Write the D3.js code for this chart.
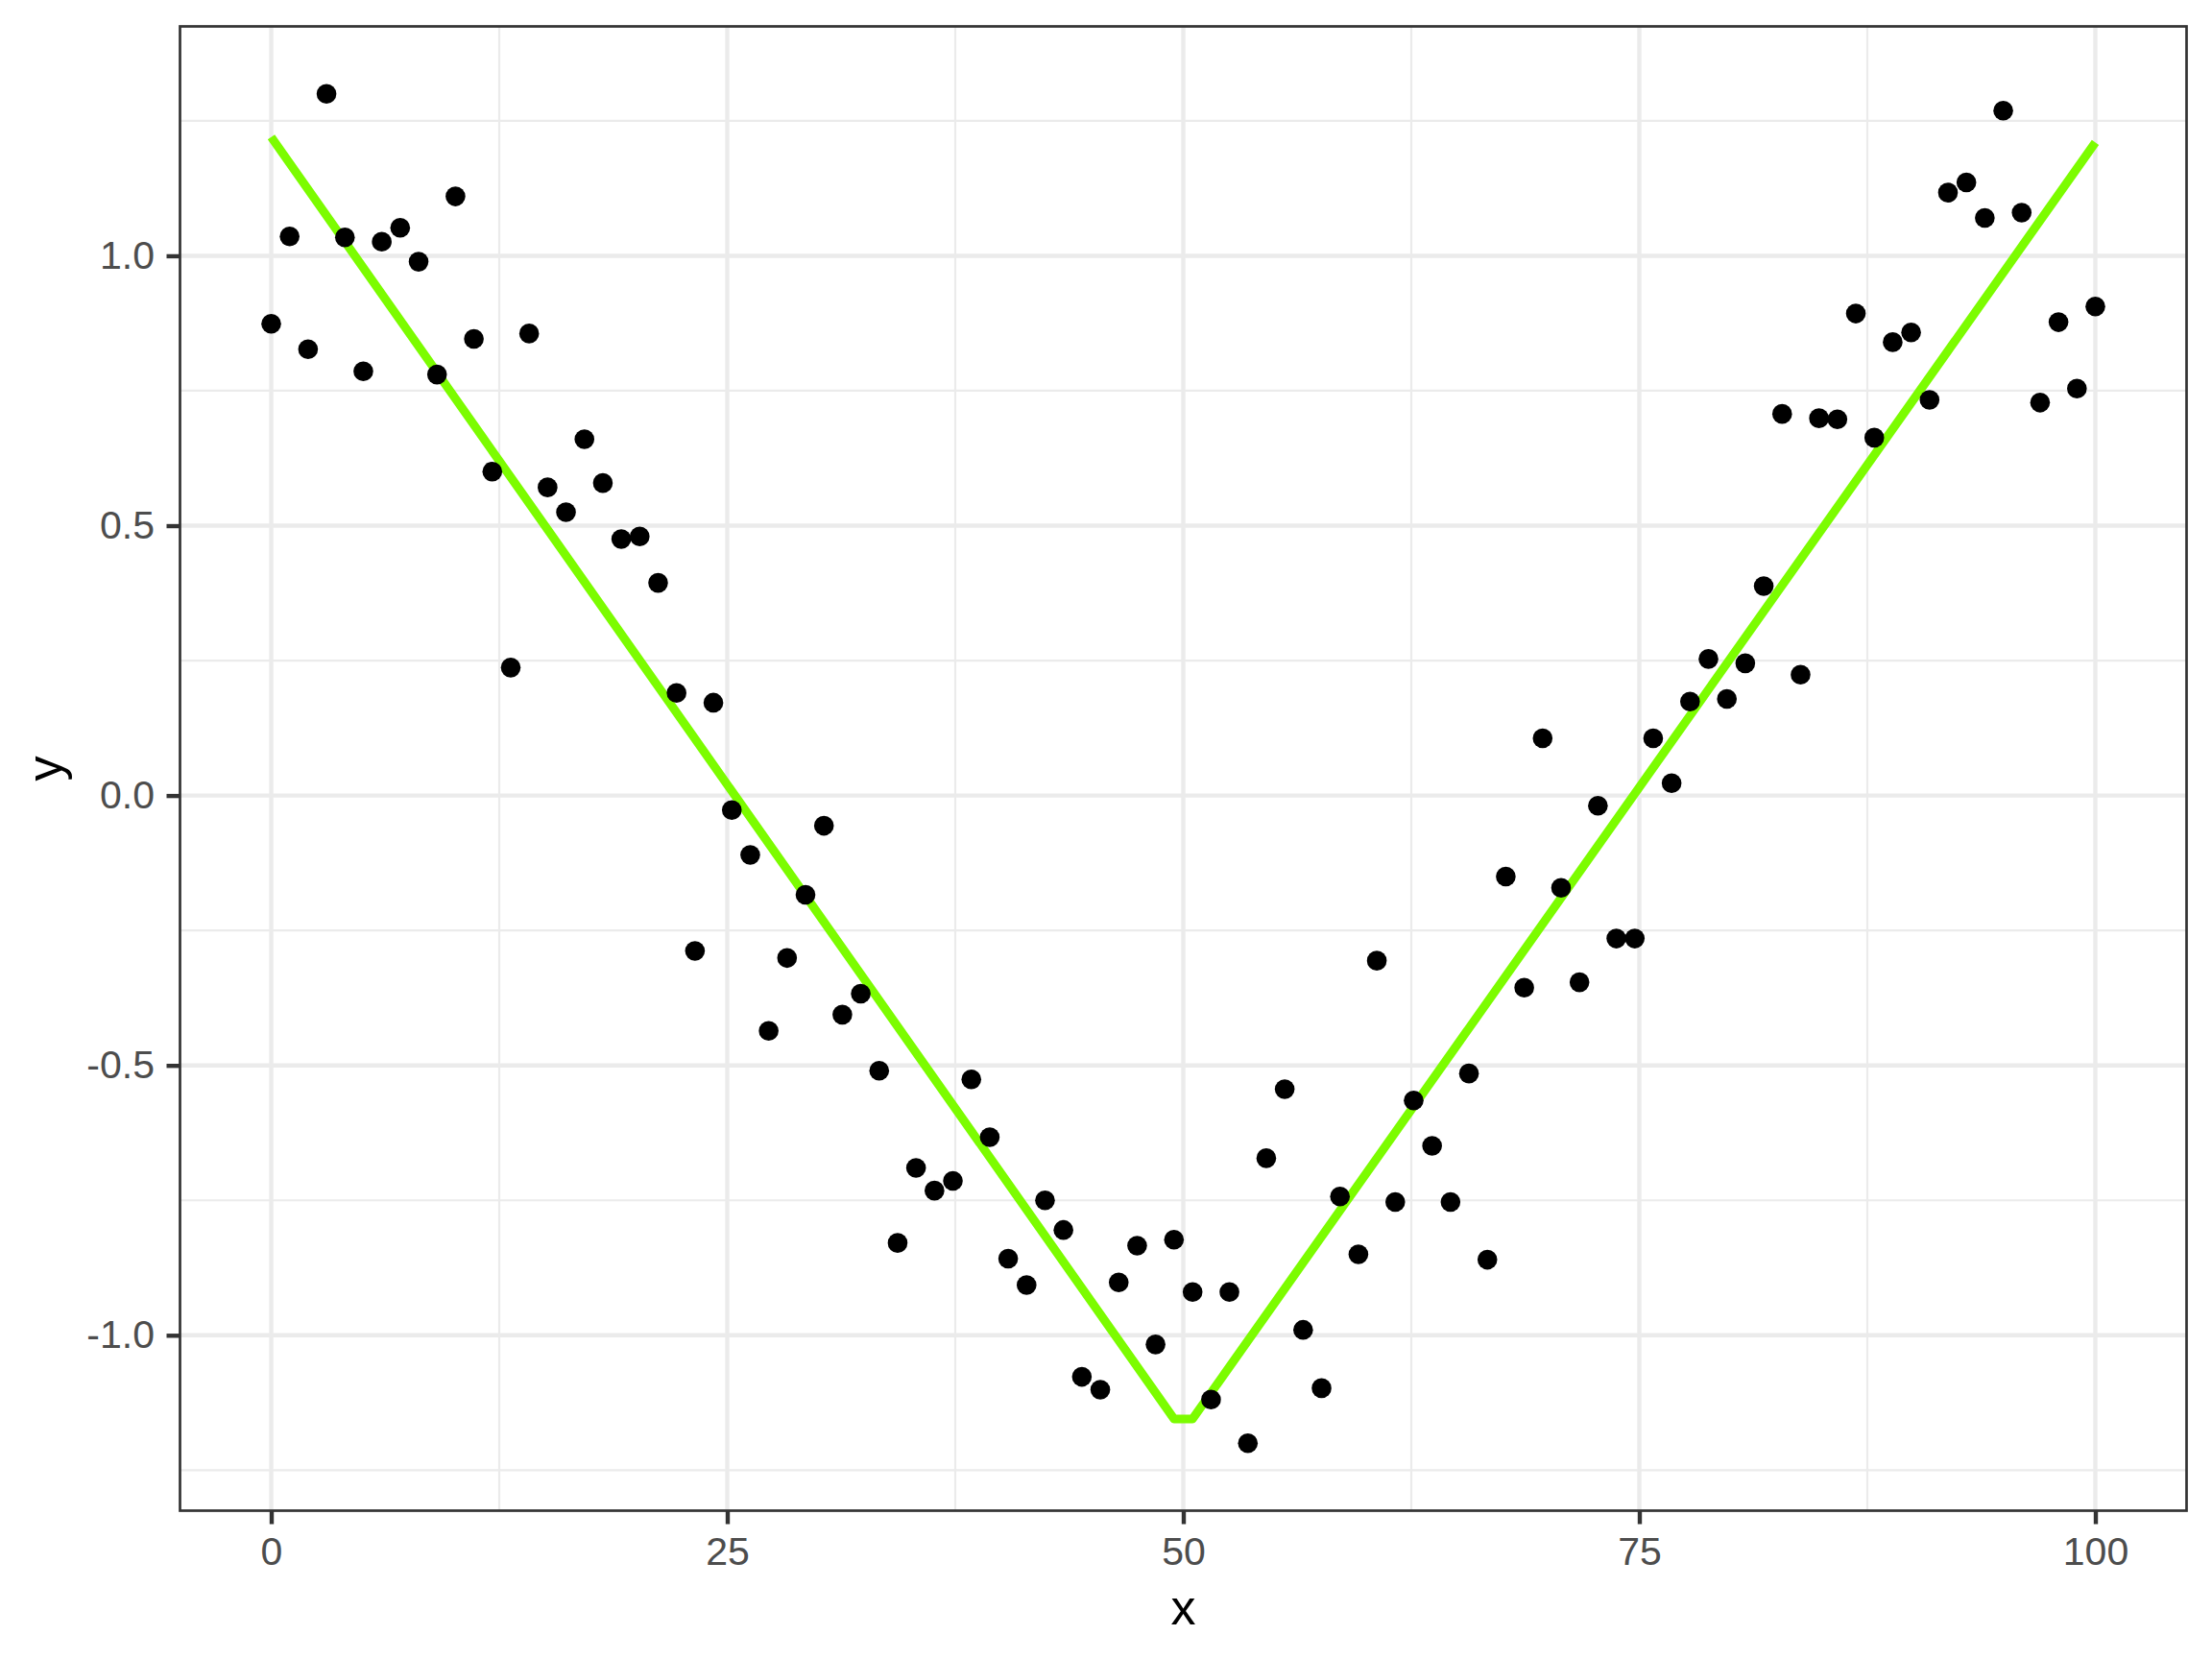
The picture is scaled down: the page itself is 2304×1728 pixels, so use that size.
<!DOCTYPE html>
<html>
<head>
<meta charset="utf-8">
<script src="https://cdn.jsdelivr.net/npm/d3@7"></script>
<style>
  body { margin: 0; background: #ffffff; }
  svg { display: block; }
  .tickLabel { font-family: "Liberation Sans", Arial, Helvetica, sans-serif; }
</style>
</head>
<body>
<svg id="chart" width="2304" height="1728"></svg>
<script>
// observed points (x evenly spaced 0..100, 100 points)
var xs = [0, 1.01, 2.02, 3.03, 4.04, 5.05, 6.06, 7.07, 8.08, 9.09,
  10.10, 11.11, 12.12, 13.13, 14.14, 15.15, 16.16, 17.17, 18.18, 19.19,
  20.20, 21.21, 22.22, 23.23, 24.24, 25.25, 26.26, 27.27, 28.28, 29.29,
  30.30, 31.31, 32.32, 33.33, 34.34, 35.35, 36.36, 37.37, 38.38, 39.39,
  40.40, 41.41, 42.42, 43.43, 44.44, 45.45, 46.46, 47.47, 48.48, 49.49,
  50.51, 51.52, 52.53, 53.54, 54.55, 55.56, 56.57, 57.58, 58.59, 59.60,
  60.61, 61.62, 62.63, 63.64, 64.65, 65.66, 66.67, 67.68, 68.69, 69.70,
  70.71, 71.72, 72.73, 73.74, 74.75, 75.76, 76.77, 77.78, 78.79, 79.80,
  80.81, 81.82, 82.83, 83.84, 84.85, 85.86, 86.87, 87.88, 88.89, 89.90,
  90.91, 91.92, 92.93, 93.94, 94.95, 95.96, 96.97, 97.98, 98.99, 100];

var ys = [0.874, 1.036, 0.827, 1.30, 1.034, 0.786, 1.026, 1.052, 0.989, 0.780,
  1.110, 0.846, 0.600, 0.237, 0.856, 0.571, 0.525, 0.660, 0.579, 0.475,
  0.480, 0.394, 0.190, -0.288, 0.172, -0.027, -0.110, -0.436, -0.301, -0.184,
  -0.056, -0.406, -0.367, -0.510, -0.829, -0.690, -0.732, -0.714, -0.526, -0.633,
  -0.858, -0.907, -0.750, -0.805, -1.077, -1.101, -0.902, -0.834, -1.017, -0.823,
  -0.920, -1.119, -0.920, -1.200, -0.672, -0.544, -0.990, -1.098, -0.743, -0.850,
  -0.306, -0.753, -0.565, -0.649, -0.753, -0.515, -0.860, -0.150, -0.356, 0.106,
  -0.171, -0.346, -0.019, -0.265, -0.265, 0.106, 0.023, 0.174, 0.253, 0.179,
  0.245, 0.388, 0.707, 0.224, 0.699, 0.697, 0.893, 0.663, 0.840, 0.858,
  0.733, 1.117, 1.136, 1.070, 1.269, 1.080, 0.728, 0.877, 0.754, 0.906];

// fitted line vertices
var fitX = [0, 49.49, 50.51, 100];
var fitY = [1.22, -1.155, -1.155, 1.21];

// ticks
var xTicks = [0, 25, 50, 75, 100];
var xTickLabels = ["0", "25", "50", "75", "100"];
var xMinor = [12.5, 37.5, 62.5, 87.5];
var yTicks = [-1, -0.5, 0, 0.5, 1];
var yTickLabels = ["-1.0", "-0.5", "0.0", "0.5", "1.0"];
var yMinor = [-1.25, -0.75, -0.25, 0.25, 0.75, 1.25];

var margin = {top: 27.5, right: 26.5, bottom: 154.5, left: 187.5};
var width = 2304 - margin.left - margin.right;
var height = 1728 - margin.top - margin.bottom;

var points = xs.map(function(d, i) { return {x: d, y: ys[i]}; });
var fit = fitX.map(function(d, i) { return {x: d, y: fitY[i]}; });

// ggplot style 5% expansion
var xExt = d3.extent(xs);
var yExt = d3.extent(ys);
var xPad = (xExt[1] - xExt[0]) * 0.05;
var yPad = (yExt[1] - yExt[0]) * 0.05;

var x = d3.scaleLinear()
  .domain([xExt[0] - xPad, xExt[1] + xPad])
  .range([0, width]);
var y = d3.scaleLinear()
  .domain([yExt[0] - yPad, yExt[1] + yPad])
  .range([height, 0]);

var svg = d3.select('#chart');

svg.append('rect')
  .attr('width', 2304)
  .attr('height', 1728)
  .attr('fill', '#ffffff');

var g = svg.append('g')
  .attr('transform', 'translate(' + margin.left + ',' + margin.top + ')');

var grid = g.append('g').attr('class', 'grid');

grid.selectAll('.minorY')
  .data(yMinor)
  .enter().append('line')
  .attr('x1', 0).attr('x2', width)
  .attr('y1', function(d) { return y(d); })
  .attr('y2', function(d) { return y(d); })
  .attr('stroke', '#ebebeb')
  .attr('stroke-width', 2.2);

grid.selectAll('.minorX')
  .data(xMinor)
  .enter().append('line')
  .attr('y1', 0).attr('y2', height)
  .attr('x1', function(d) { return x(d); })
  .attr('x2', function(d) { return x(d); })
  .attr('stroke', '#ebebeb')
  .attr('stroke-width', 2.2);

grid.selectAll('.majorY')
  .data(yTicks)
  .enter().append('line')
  .attr('x1', 0).attr('x2', width)
  .attr('y1', function(d) { return y(d); })
  .attr('y2', function(d) { return y(d); })
  .attr('stroke', '#ebebeb')
  .attr('stroke-width', 4.4);

grid.selectAll('.majorX')
  .data(xTicks)
  .enter().append('line')
  .attr('y1', 0).attr('y2', height)
  .attr('x1', function(d) { return x(d); })
  .attr('x2', function(d) { return x(d); })
  .attr('stroke', '#ebebeb')
  .attr('stroke-width', 4.4);

var valueline = d3.line()
  .x(function(d) { return x(d.x); })
  .y(function(d) { return y(d.y); });

g.append('path')
  .datum(fit)
  .attr('fill', 'none')
  .attr('stroke', '#7cfc00')
  .attr('stroke-width', 9)
  .attr('stroke-linejoin', 'round')
  .attr('stroke-linecap', 'butt')
  .attr('d', valueline);

g.selectAll('.dot')
  .data(points)
  .enter().append('circle')
  .attr('class', 'dot')
  .attr('cx', function(d) { return x(d.x); })
  .attr('cy', function(d) { return y(d.y); })
  .attr('r', 10.3)
  .attr('fill', '#000000');

// panel border
g.append('rect')
  .attr('width', width)
  .attr('height', height)
  .attr('fill', 'none')
  .attr('stroke', '#333333')
  .attr('stroke-width', 2.7);

var xAxis = g.append('g')
  .attr('transform', 'translate(0,' + height + ')')
  .call(d3.axisBottom(x)
    .tickValues(xTicks)
    .tickFormat(function(d, i) { return xTickLabels[i]; })
    .tickSize(14)
    .tickPadding(13));

var yAxis = g.append('g')
  .call(d3.axisLeft(y)
    .tickValues(yTicks)
    .tickFormat(function(d, i) { return yTickLabels[i]; })
    .tickSize(14)
    .tickPadding(12.5));

[xAxis, yAxis].forEach(function(ax) {
  ax.select('.domain').remove();
  ax.selectAll('.tick line')
    .attr('stroke', '#333333')
    .attr('stroke-width', 4.4);
  ax.selectAll('.tick text')
    .attr('class', 'tickLabel')
    .attr('fill', '#4d4d4d')
    .style('font-size', '41px');
});

// axis titles
svg.append('text')
  .attr('x', margin.left + width / 2)
  .attr('y', 1692)
  .attr('text-anchor', 'middle')
  .style('font-family', '"Liberation Sans", Arial, Helvetica, sans-serif')
  .style('font-size', '52px')
  .attr('fill', '#000000')
  .text('x');

svg.append('text')
  .attr('transform', 'translate(64,' + (margin.top + height / 2) + ') rotate(-90)')
  .attr('text-anchor', 'middle')
  .style('font-family', '"Liberation Sans", Arial, Helvetica, sans-serif')
  .style('font-size', '52px')
  .attr('fill', '#000000')
  .text('y');
</script>
</body>
</html>
